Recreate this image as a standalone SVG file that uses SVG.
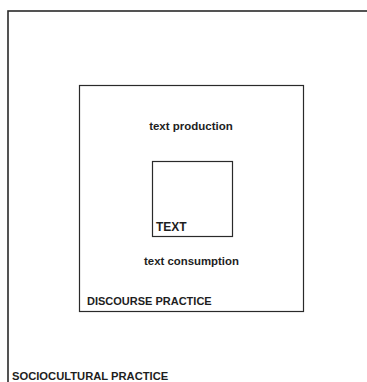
<svg xmlns="http://www.w3.org/2000/svg" width="367" height="382" viewBox="0 0 367 382">
<style>
.box{fill:none;stroke:#2a2a2a}
.lbl{font-family:"Liberation Sans",Arial,sans-serif;font-weight:bold;fill:#1e1e1e}
</style>
<rect width="367" height="382" fill="#fff"/>
<g id="sociocultural">
<rect class="box" x="8" y="11" width="370" height="380" stroke-width="1.6"/>
<text class="lbl" x="12" y="380" font-size="11.2">SOCIOCULTURAL PRACTICE</text>
</g>
<g id="discourse">
<rect class="box" x="79.5" y="85.5" width="224" height="226" stroke-width="1.2"/>
<text class="lbl" x="87" y="305" font-size="11">DISCOURSE PRACTICE</text>
<text class="lbl" x="191" y="130" font-size="11.5" text-anchor="middle">text production</text>
<text class="lbl" x="191.5" y="265" font-size="11.4" text-anchor="middle">text consumption</text>
</g>
<g id="text">
<rect class="box" x="152.5" y="161.5" width="80" height="75" stroke-width="1.2"/>
<text class="lbl" x="156" y="231" font-size="12" letter-spacing="0">TEXT</text>
</g>
<g id="connectors"/>
</svg>
